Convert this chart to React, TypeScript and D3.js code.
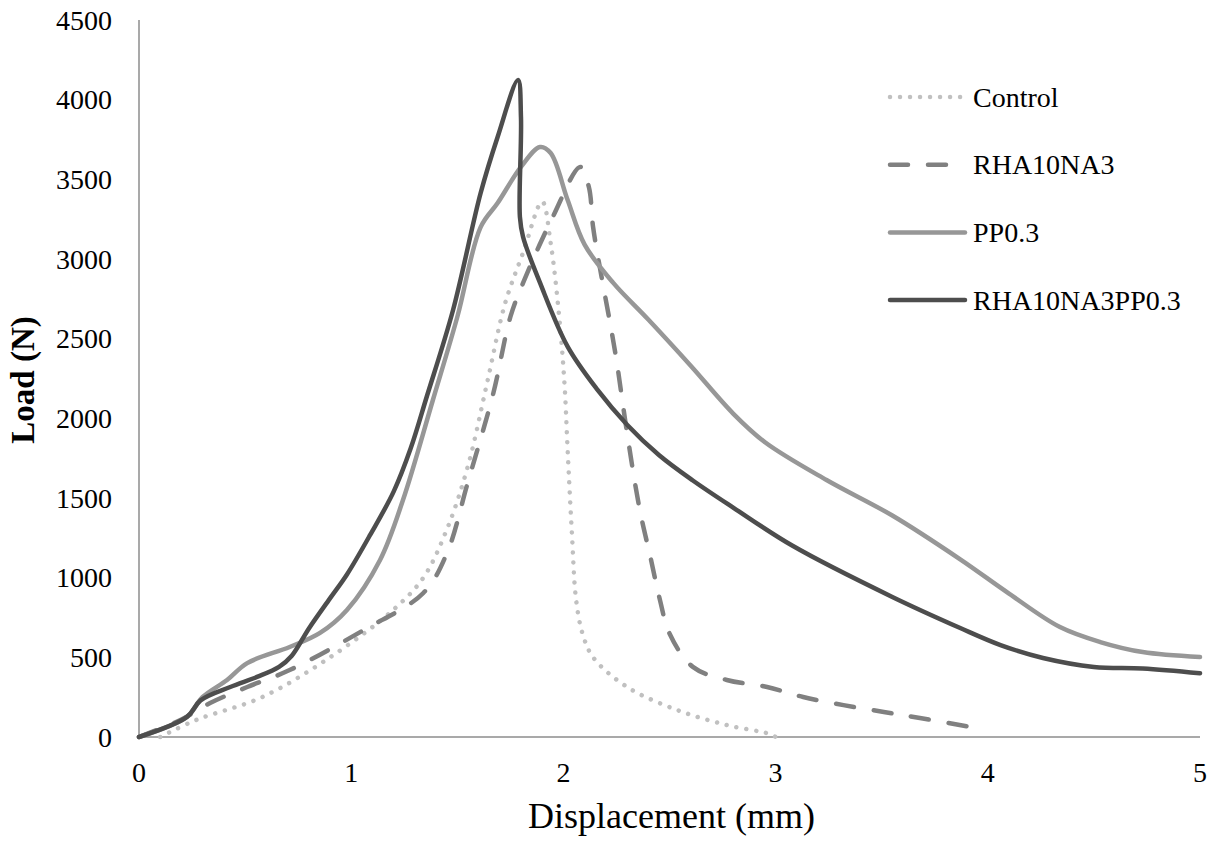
import React from "react";
import * as d3 from "d3";

const xTicks = [0, 1, 2, 3, 4, 5];
const yTicks = [0, 500, 1000, 1500, 2000, 2500, 3000, 3500, 4000, 4500];

const control: [number, number][] = [
  [0.1, 0], [0.27, 107], [0.58, 250], [0.9, 500], [1.2, 800], [1.34, 1000], [1.45, 1300],
  [1.55, 1700], [1.64, 2220], [1.725, 2720], [1.81, 3040], [1.9, 3360], [1.94, 3100],
  [1.98, 2640], [2.005, 2220], [2.02, 1800], [2.04, 1280], [2.06, 860], [2.09, 650],
  [2.14, 500], [2.3, 314], [2.535, 170], [2.77, 75], [2.97, 20], [3.0, 0],
];

const rha10na3: [number, number][] = [
  [0, 0], [0.2, 110], [0.335, 213], [0.51, 314], [0.71, 420], [1.06, 672], [1.34, 904],
  [1.45, 1150], [1.55, 1600], [1.67, 2159], [1.75, 2636], [1.81, 2850], [1.95, 3264],
  [2.08, 3578], [2.12, 3452], [2.14, 3200], [2.18, 2887], [2.22, 2598], [2.25, 2366],
  [2.3, 1908], [2.36, 1425], [2.41, 1130], [2.455, 860], [2.5, 650], [2.61, 440],
  [2.77, 358], [2.96, 314], [3.13, 251], [3.32, 200], [3.51, 157], [3.68, 119], [3.92, 63],
];

const pp03: [number, number][] = [
  [0, 0], [0.226, 126], [0.3, 251], [0.415, 358], [0.51, 464], [0.71, 565], [0.853, 653],
  [0.98, 797], [1.136, 1111], [1.244, 1487], [1.385, 2115], [1.5, 2636], [1.61, 3200],
  [1.69, 3351], [1.8, 3578], [1.89, 3703], [1.94, 3665], [2.02, 3370], [2.1, 3090],
  [2.235, 2850], [2.4, 2620], [2.6, 2330], [2.8, 2030], [2.95, 1850], [3.24, 1613],
  [3.55, 1390], [3.87, 1115], [4.1, 900], [4.34, 690], [4.53, 596], [4.73, 533], [5.0, 502],
];

const rha10na3pp03: [number, number][] = [
  [0, 0], [0.226, 126], [0.29, 230], [0.43, 314], [0.556, 377], [0.66, 440], [0.72, 510],
  [0.8, 680], [0.9, 870], [0.98, 1020], [1.09, 1270], [1.2, 1540], [1.28, 1810], [1.357, 2140],
  [1.48, 2680], [1.61, 3414], [1.69, 3766], [1.786, 4124], [1.8, 3891], [1.795, 3264],
  [1.81, 3138], [1.89, 2850], [2.02, 2450], [2.16, 2180], [2.3, 1960], [2.45, 1770],
  [2.61, 1610], [2.8, 1440], [3.08, 1200], [3.55, 879], [3.87, 684], [4.06, 577], [4.26, 496],
  [4.5, 440], [4.73, 430], [5.0, 400],
];

const seriesNames = ["Control", "RHA10NA3", "PP0.3", "RHA10NA3PP0.3"];
const seriesData = [control, rha10na3, pp03, rha10na3pp03];
const seriesColors = ["#c0c0c0", "#808080", "#979797", "#4d4d4d"];
const seriesDash = ["0.01 10", "18 20", "", ""];

export default function App() {
  const W = 1217;
  const H = 843;
  const x = d3.scaleLinear().domain([0, 5]).range([139, 1200]);
  const y = d3.scaleLinear().domain([0, 4500]).range([737, 20]);
  const line = d3
    .line<[number, number]>()
    .x((d) => x(d[0]))
    .y((d) => y(d[1]))
    .curve(d3.curveCatmullRom.alpha(0.5));
  const font = "'Liberation Serif', 'Times New Roman', serif";
  const legendY0 = 97;
  const legendStep = 67.7;
  return (
    <svg
      width={W}
      height={H}
      style={{ position: "absolute", left: 0, top: 0, background: "#fff" }}
      fontFamily={font}
    >
      <rect x={0} y={0} width={W} height={H} fill="#fff" />
      <line x1={x(0)} x2={x(0)} y1={y(4500)} y2={y(0)} stroke="#8c8c8c" strokeWidth={1.5} />
      <line x1={x(0)} x2={x(5)} y1={y(0)} y2={y(0)} stroke="#8c8c8c" strokeWidth={1.5} />
      {yTicks.map((t) => (
        <text key={"y" + t} x={112} y={y(t)} textAnchor="end" dominantBaseline="central" fontSize={28} fill="#000">
          {t}
        </text>
      ))}
      {xTicks.map((t) => (
        <text key={"x" + t} x={x(t)} y={782} textAnchor="middle" fontSize={28} fill="#000">
          {t}
        </text>
      ))}
      <text x={x(2.5) + 2} y={828} textAnchor="middle" fontSize={36} fill="#000">
        Displacement (mm)
      </text>
      <text
        transform={`translate(34,380) rotate(-90)`}
        textAnchor="middle"
        fontSize={33}
        fontWeight="bold"
        fill="#000"
      >
        Load (N)
      </text>
      {seriesData.map((d, i) => (
        <path
          key={seriesNames[i]}
          d={line(d) || ""}
          fill="none"
          stroke={seriesColors[i]}
          strokeWidth={4.5}
          strokeDasharray={seriesDash[i] || undefined}
          strokeLinecap="round"
          strokeLinejoin="round"
        />
      ))}
      {seriesNames.map((n, i) => {
        const ly = legendY0 + i * legendStep;
        return (
          <g key={"lg" + n}>
            <line
              x1={890}
              x2={965}
              y1={ly}
              y2={ly}
              stroke={seriesColors[i]}
              strokeWidth={4.5}
              strokeDasharray={seriesDash[i] || undefined}
              strokeLinecap="round"
            />
            <text x={973} y={ly} dominantBaseline="central" fontSize={28} fill="#000">
              {n}
            </text>
          </g>
        );
      })}
    </svg>
  );
}
